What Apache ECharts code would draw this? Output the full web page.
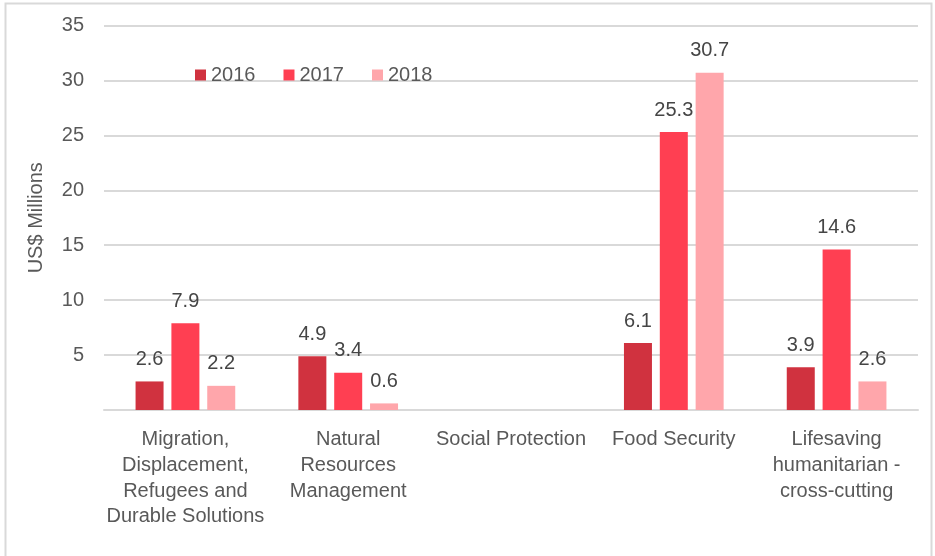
<!DOCTYPE html>
<html><head><meta charset="utf-8">
<script src="https://cdn.jsdelivr.net/npm/echarts@6/dist/echarts.min.js"></script>
<style>html,body{margin:0;padding:0;background:#fff}#c{width:935px;height:556px}</style>
</head><body><div id="c"></div>
<script>
const categories = ['Migration,\nDisplacement,\nRefugees and\nDurable Solutions','Natural\nResources\nManagement','Social Protection','Food Security','Lifesaving\nhumanitarian -\ncross-cutting'];
const years = ['2016','2017','2018'];
const v2016 = [2.6, 4.9, null, 6.1, 3.9];
const v2017 = [7.9, 3.4, null, 25.3, 14.6];
const v2018 = [2.2, 0.6, null, 30.7, 2.6];
const yTicks = [0,5,10,15,20,25,30,35];
const colors = ['#D0323F','#FF3F52','#FFA6AB'];
const FONT = 'Liberation Sans';
const FS = 20;
const chart = echarts.init(document.getElementById('c'));
const mk = (name, data, color) => ({
  name, type:'bar', data, barWidth:28, barGap:'28%',
  itemStyle:{color},
  label:{show:true, position:'top', distance:12, color:'#454545', fontSize:FS, fontFamily:FONT}
});
chart.setOption({
  animation:false,
  textStyle:{fontFamily:FONT},
  graphic:[{type:'rect', shape:{x:5.5,y:3.5,width:926,height:570}, style:{fill:'none',stroke:'#d9d9d9',lineWidth:2}, silent:true}],
  legend:{left:190, top:60, itemWidth:11, itemHeight:11, itemGap:28, icon:'rect',
    textStyle:{fontSize:FS, color:'#595959', fontFamily:FONT, padding:[0,0,0,0]}, data:years},
  grid:{left:104, right:17, top:25.5, bottom:146},
  xAxis:{type:'category', data:categories,
    axisLine:{lineStyle:{color:'#d9d9d9', width:2}}, axisTick:{show:false},
    axisLabel:{interval:0, margin:17, fontSize:FS, lineHeight:25.7, color:'#595959', fontFamily:FONT}},
  yAxis:{type:'value', min:yTicks[0], max:yTicks[yTicks.length-1], interval:5,
    name:'US$ Millions', nameLocation:'middle', nameGap:58, nameRotate:90,
    nameTextStyle:{fontSize:FS, color:'#595959', fontFamily:FONT},
    axisLine:{show:false}, axisTick:{show:false},
    splitLine:{lineStyle:{color:'#d9d9d9', width:2}},
    axisLabel:{margin:20, fontSize:FS, color:'#595959', fontFamily:FONT, formatter:v=>v===0?'':String(v)}},
  series:[mk(years[0], v2016, colors[0]), mk(years[1], v2017, colors[1]), mk(years[2], v2018, colors[2])]
});
</script></body></html>
